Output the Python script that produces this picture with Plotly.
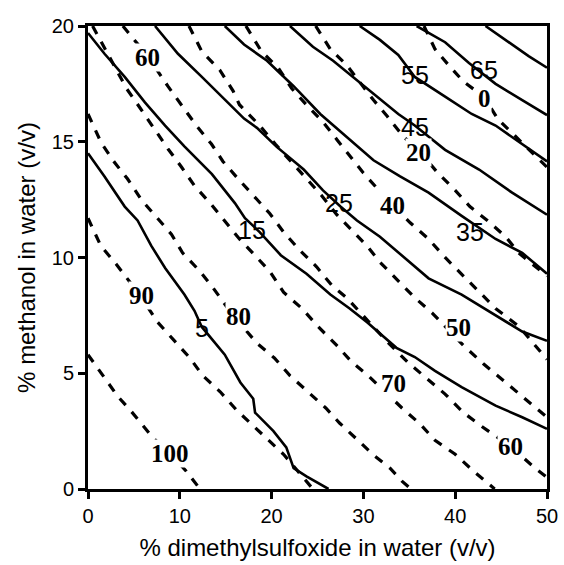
import plotly.graph_objects as go

# ---- solid contour lines (levels 5..65, plus unlabelled top-right line) ----
solid_levels = [5, 15, 25, 35, 45, 55, 65, 75]
s5_x = [0, 1.8, 4.0, 5.4, 6.9, 8.4, 10.5, 11.6, 12.4, 13.4, 14.9, 16.6, 18.0, 18.2, 20.2, 21.6, 22.4, 23.8, 26.2]
s5_y = [14.5, 13.5, 12.2, 11.6, 10.5, 9.55, 8.4, 7.7, 7.0, 6.5, 5.8, 4.6, 3.9, 3.3, 2.5, 1.8, 0.9, 0.55, 0]
s15_x = [0, 1.8, 4.0, 6.2, 8.4, 10.5, 13.5, 16.0, 17.1, 18.7, 21.0, 23.8, 26.4, 28.5, 30.4, 31.8, 33.6, 35.6, 37.8, 40.7, 44.4, 47.3, 50]
s15_y = [19.7, 18.8, 17.8, 16.7, 15.7, 14.8, 13.6, 12.35, 11.7, 11.1, 10.1, 9.3, 8.4, 7.8, 7.2, 6.7, 6.1, 5.7, 5.1, 4.4, 3.6, 3.1, 2.6]
s25_x = [7.3, 9.8, 12.4, 14.9, 17.0, 18.4, 20.5, 23.5, 25.6, 27.5, 29.3, 31.8, 34.0, 37.1, 40.7, 44.4, 47.3, 50]
s25_y = [20, 18.8, 17.8, 16.8, 16.0, 15.6, 14.8, 13.8, 12.9, 12.2, 11.6, 10.9, 10.15, 9.1, 8.4, 7.5, 6.8, 6.4]
s35_x = [14.9, 17.0, 19.5, 22.4, 25.3, 28.2, 31.1, 34.0, 37.1, 40.7, 44.4, 47.3, 50]
s35_y = [20, 19.2, 18.5, 17.4, 16.2, 15.2, 14.2, 13.5, 12.8, 11.8, 10.8, 10.2, 9.3]
s45_x = [22.0, 24.5, 26.7, 28.9, 31.1, 33.8, 35.6, 38.9, 42.6, 46.2, 50]
s45_y = [20, 19.1, 18.5, 17.8, 17.1, 16.2, 15.7, 14.65, 13.8, 12.8, 11.85]
s55_x = [29.6, 31.8, 33.8, 35.6, 38.9, 41.8, 44.4, 47.3, 50]
s55_y = [20, 19.4, 18.75, 17.8, 16.95, 16.2, 15.7, 14.9, 14.15]
s65_x = [35.8, 38.9, 41.5, 44.4, 47.3, 50]
s65_y = [20, 19.3, 18.4, 17.5, 16.8, 16.15]
s75_x = [43.3, 45.8, 48.0, 50]
s75_y = [20, 19.3, 18.7, 18.2]

# ---- dashed contour lines (levels 100..0) ----
dashed_levels = [100, 90, 80, 70, 60, 50, 40, 20, 0]
d100_x = [0, 1.8, 3.25, 4.7, 7.1, 8.9, 10.7, 12.2]
d100_y = [5.8, 4.8, 4.0, 3.36, 2.2, 1.56, 0.77, 0]
d90_x = [0, 1.4, 3.1, 4.5, 5.6, 7.6, 9.3, 11.1, 12.5, 14.4, 16.2, 17.8, 19.6, 21.3, 22.8, 24.5]
d90_y = [11.7, 10.5, 9.7, 9.0, 8.4, 7.2, 6.45, 5.66, 4.9, 4.2, 3.4, 2.8, 2.1, 1.5, 0.8, 0]
d80_x = [0, 1.45, 2.9, 4.3, 5.8, 7.3, 9.1, 10.3, 12.2, 13.6, 15.8, 18.4, 20.3, 22.0, 23.9, 25.9, 27.4, 29.4, 31.1, 32.9, 34.2, 35.2]
d80_y = [16.2, 14.95, 14.1, 13.4, 12.5, 11.8, 11.0, 10.2, 9.4, 8.7, 7.5, 6.3, 5.66, 4.9, 4.2, 3.5, 2.85, 2.1, 1.47, 0.9, 0.34, 0]
d70_x = [0.5, 3.25, 4.2, 5.6, 7.1, 8.7, 10.2, 11.6, 13.3, 14.9, 16.5, 18.4, 19.8, 21.3, 23.3, 25.1, 27.1, 28.7, 30.5, 34.2, 36.2, 37.8, 40.0, 42.0, 43.8, 44.3]
d70_y = [20, 18.0, 17.3, 16.5, 15.6, 14.7, 13.9, 13.1, 12.35, 11.6, 10.8, 10.0, 9.4, 8.5, 7.8, 7.0, 6.2, 5.5, 4.9, 3.5, 2.8, 2.1, 1.5, 0.77, 0.2, 0]
d60_x = [3.8, 6.5, 8.7, 10.35, 11.8, 13.45, 14.7, 16.35, 19.8, 21.3, 23.1, 24.9, 26.55, 28.2, 30.4, 32.5, 34.9, 37.1, 38.9, 40.9, 42.9, 46.0, 48.7, 50]
d60_y = [20, 18.7, 17.4, 16.5, 15.7, 14.9, 14.15, 13.4, 11.9, 11.1, 10.3, 9.6, 8.8, 8.25, 7.3, 6.4, 5.45, 4.7, 4.1, 3.3, 2.7, 1.85, 0.9, 0.5]
d50_x = [11.0, 12.4, 14.35, 15.8, 16.5, 18.7, 20.4, 22.0, 23.6, 25.4, 27.1, 28.7, 30.4, 31.8, 33.8, 35.5, 37.5, 40.9, 43.1, 44.9, 46.9, 49.1, 50]
d50_y = [20, 18.9, 18.1, 17.2, 16.6, 15.7, 14.9, 14.2, 13.5, 12.7, 11.85, 11.2, 10.5, 9.8, 9.0, 8.3, 7.6, 6.2, 5.4, 4.8, 4.1, 3.4, 3.1]
d40_x = [17.2, 18.9, 20.7, 22.2, 24.0, 25.5, 27.1, 28.5, 30.0, 31.8, 35.1, 37.1, 38.9, 40.9, 42.7, 44.4, 47.0, 49.5, 50]
d40_y = [20, 18.9, 18.2, 17.3, 16.5, 15.9, 15.1, 14.4, 13.65, 12.85, 11.5, 10.8, 10.0, 9.2, 8.5, 7.8, 7.0, 5.8, 5.6]
d20_x = [24.8, 26.4, 28.2, 31.1, 32.6, 34.4, 36.0, 38.0, 40.0, 41.6, 43.5, 45.5, 46.9, 50]
d20_y = [20, 19.0, 18.3, 16.8, 16.1, 15.2, 14.65, 13.7, 12.9, 12.2, 11.6, 10.9, 10.2, 9.2]
d0_x = [36.6, 37.8, 39.3, 40.9, 43.1, 44.7, 46.4, 49.5, 50]
d0_y = [20, 19.0, 18.3, 17.6, 16.95, 15.95, 15.3, 14.1, 13.9]

# ---- contour labels (text, x, y) ----
solid_label_text = ["5", "15", "25", "35", "45", "55", "65"]
solid_label_x = [12.4, 17.9, 27.3, 41.6, 35.6, 35.6, 43.1]
solid_label_y = [6.96, 11.2, 12.35, 11.1, 15.65, 17.9, 18.1]
dashed_label_text = ["100", "90", "80", "70", "60", "50", "40", "20", "0", "60"]
dashed_label_x = [8.9, 5.8, 16.35, 33.3, 46.0, 40.4, 33.2, 36.0, 43.2, 6.5]
dashed_label_y = [1.53, 8.37, 7.46, 4.55, 1.85, 6.96, 12.25, 14.55, 16.85, 18.65]

x_ticks = [0, 10, 20, 30, 40, 50]
y_ticks = [0, 5, 10, 15, 20]

solid_lines = [(s5_x, s5_y), (s15_x, s15_y), (s25_x, s25_y), (s35_x, s35_y),
               (s45_x, s45_y), (s55_x, s55_y), (s65_x, s65_y), (s75_x, s75_y)]
dashed_lines = [(d100_x, d100_y), (d90_x, d90_y), (d80_x, d80_y), (d70_x, d70_y),
                (d60_x, d60_y), (d50_x, d50_y), (d40_x, d40_y), (d20_x, d20_y), (d0_x, d0_y)]

fig = go.Figure()
for lvl, (xs, ys) in zip(solid_levels, solid_lines):
    fig.add_trace(go.Scatter(x=xs, y=ys, mode="lines", name=str(lvl),
                             line=dict(color="black", width=2.6), hoverinfo="skip"))
for lvl, (xs, ys) in zip(dashed_levels, dashed_lines):
    fig.add_trace(go.Scatter(x=xs, y=ys, mode="lines", name=str(lvl),
                             line=dict(color="black", width=3.2, dash="9px,9px"), hoverinfo="skip"))

for t, x, y in zip(solid_label_text, solid_label_x, solid_label_y):
    fig.add_annotation(x=x, y=y, text=t, showarrow=False, borderpad=0,
                       font=dict(family="Liberation Sans, Arial", size=25, color="black"))
for t, x, y in zip(dashed_label_text, dashed_label_x, dashed_label_y):
    fig.add_annotation(x=x, y=y, text="<b>" + t + "</b>", showarrow=False,
                       bgcolor="white", borderpad=0,
                       font=dict(family="Liberation Serif, Times New Roman", size=25, color="black"))

axis_common = dict(showgrid=False, zeroline=False, showline=True, mirror=True,
                   linecolor="black", linewidth=3, ticks="outside", ticklen=7,
                   tickwidth=2.5, tickcolor="black", automargin=False,
                   tickfont=dict(family="Liberation Sans, Arial", size=20, color="black"))

fig.update_layout(
    width=564, height=565, showlegend=False,
    paper_bgcolor="white", plot_bgcolor="white",
    margin=dict(l=88, r=17, t=26, b=76),
    xaxis=dict(range=[0, 50], tickvals=x_ticks, ticktext=[str(v) for v in x_ticks],
               title=dict(text="% dimethylsulfoxide in water (v/v)", standoff=14,
                          font=dict(family="Liberation Sans, Arial", size=24, color="black")),
               **axis_common),
    yaxis=dict(range=[0, 20], tickvals=y_ticks, ticktext=[str(v) for v in y_ticks],
               title=dict(text="% methanol in water (v/v)", standoff=10,
                          font=dict(family="Liberation Sans, Arial", size=24, color="black")),
               **axis_common),
)

fig.write_html("out.html")
